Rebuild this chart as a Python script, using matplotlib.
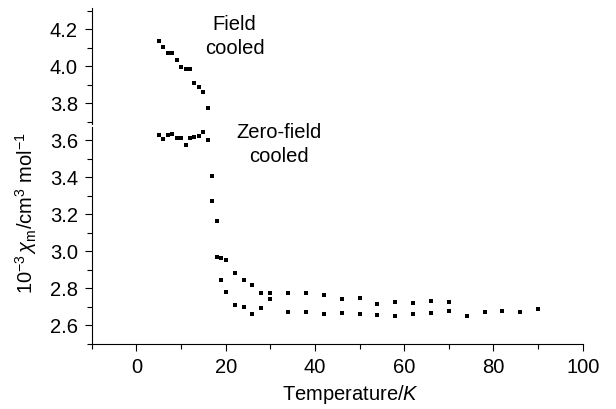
import matplotlib
matplotlib.use("Agg")
import matplotlib.pyplot as plt
from matplotlib.ticker import MultipleLocator

plt.rcParams.update({
    "font.family": ["Liberation Sans", "DejaVu Sans"],
    "mathtext.fontset": "custom",
    "mathtext.rm": "Liberation Sans",
    "mathtext.it": "Liberation Sans:italic",
    "figure.facecolor": "white",
})

# Field-cooled branch (temperature in K, susceptibility)
FC_T = [5, 6, 7, 8, 9, 10, 11, 12, 13, 14, 15, 16, 17, 18, 19, 20,
        22, 24, 26, 28, 30, 34, 38, 42, 46, 50, 54, 58, 62, 66, 70]
FC_CHI = [4.137, 4.105, 4.072, 4.074, 4.034, 3.997, 3.985, 3.988, 3.908, 3.887,
          3.863, 3.773, 3.406, 3.162, 2.965, 2.952,
          2.884, 2.845, 2.818, 2.778, 2.776, 2.776, 2.776, 2.764, 2.741, 2.748,
          2.715, 2.726, 2.719, 2.733, 2.726]

# Zero-field-cooled branch
ZFC_T = [5, 6, 7, 8, 9, 10, 11, 12, 13, 14, 15, 16, 17, 18, 19, 20,
         22, 24, 26, 28, 30, 34, 38, 42, 46, 50, 54, 58, 62, 66, 70,
         74, 78, 82, 86, 90]
ZFC_CHI = [3.629, 3.608, 3.631, 3.635, 3.616, 3.611, 3.577, 3.616, 3.620, 3.625,
           3.647, 3.602, 3.275, 2.970, 2.848, 2.780,
           2.712, 2.701, 2.663, 2.696, 2.741, 2.674, 2.671, 2.660, 2.669, 2.663,
           2.658, 2.652, 2.660, 2.669, 2.676,
           2.652, 2.674, 2.678, 2.672, 2.687]

X_TICKS = [0, 20, 40, 60, 80, 100]
Y_TICKS = [2.6, 2.8, 3.0, 3.2, 3.4, 3.6, 3.8, 4.0, 4.2]

FS = 14.5

fig = plt.figure(figsize=(6.16, 4.09), dpi=100)
ax = fig.add_axes([0.149, 0.159, 0.797, 0.821])

ax.plot(FC_T, FC_CHI, "s", color="black", ms=3, mew=0)
ax.plot(ZFC_T, ZFC_CHI, "s", color="black", ms=3, mew=0)

ax.set_xlim(-10, 100)
ax.set_ylim(2.5, 4.315)
ax.set_xticks(X_TICKS)
ax.set_yticks(Y_TICKS)
ax.set_yticklabels([f"{v:.1f}" for v in Y_TICKS])
ax.xaxis.set_minor_locator(MultipleLocator(10))
ax.yaxis.set_minor_locator(MultipleLocator(0.1))
ax.tick_params(which="both", direction="out", labelsize=FS, width=0.8,
               colors="black", pad=5)
ax.tick_params(which="major", length=5)
ax.tick_params(which="minor", length=3.5)

for s in ("top", "right"):
    ax.spines[s].set_visible(False)

# broken left axis
ax.spines["left"].set_bounds(2.5, 3.675)
ax.plot([0, 0], [3.69, 4.315], color="black", lw=0.8,
        transform=ax.get_yaxis_transform(), clip_on=False)

ax.set_xlabel("Temperature/$K$", fontsize=FS)
ax.xaxis.set_label_coords(0.527, -0.115)
ax.set_ylabel(r"$10^{-3}\,\chi_{\rm m}/{\rm cm}^{3}\ {\rm mol}^{-1}$", fontsize=FS)
ax.yaxis.set_label_coords(-0.108, 0.39)

ax.text(22, 4.16, "Field\ncooled", ha="center", va="center", fontsize=FS, linespacing=1.35)
ax.text(32, 3.58, "Zero-field\ncooled", ha="center", va="center", fontsize=FS, linespacing=1.35)

fig.savefig("out.png", dpi=100)
